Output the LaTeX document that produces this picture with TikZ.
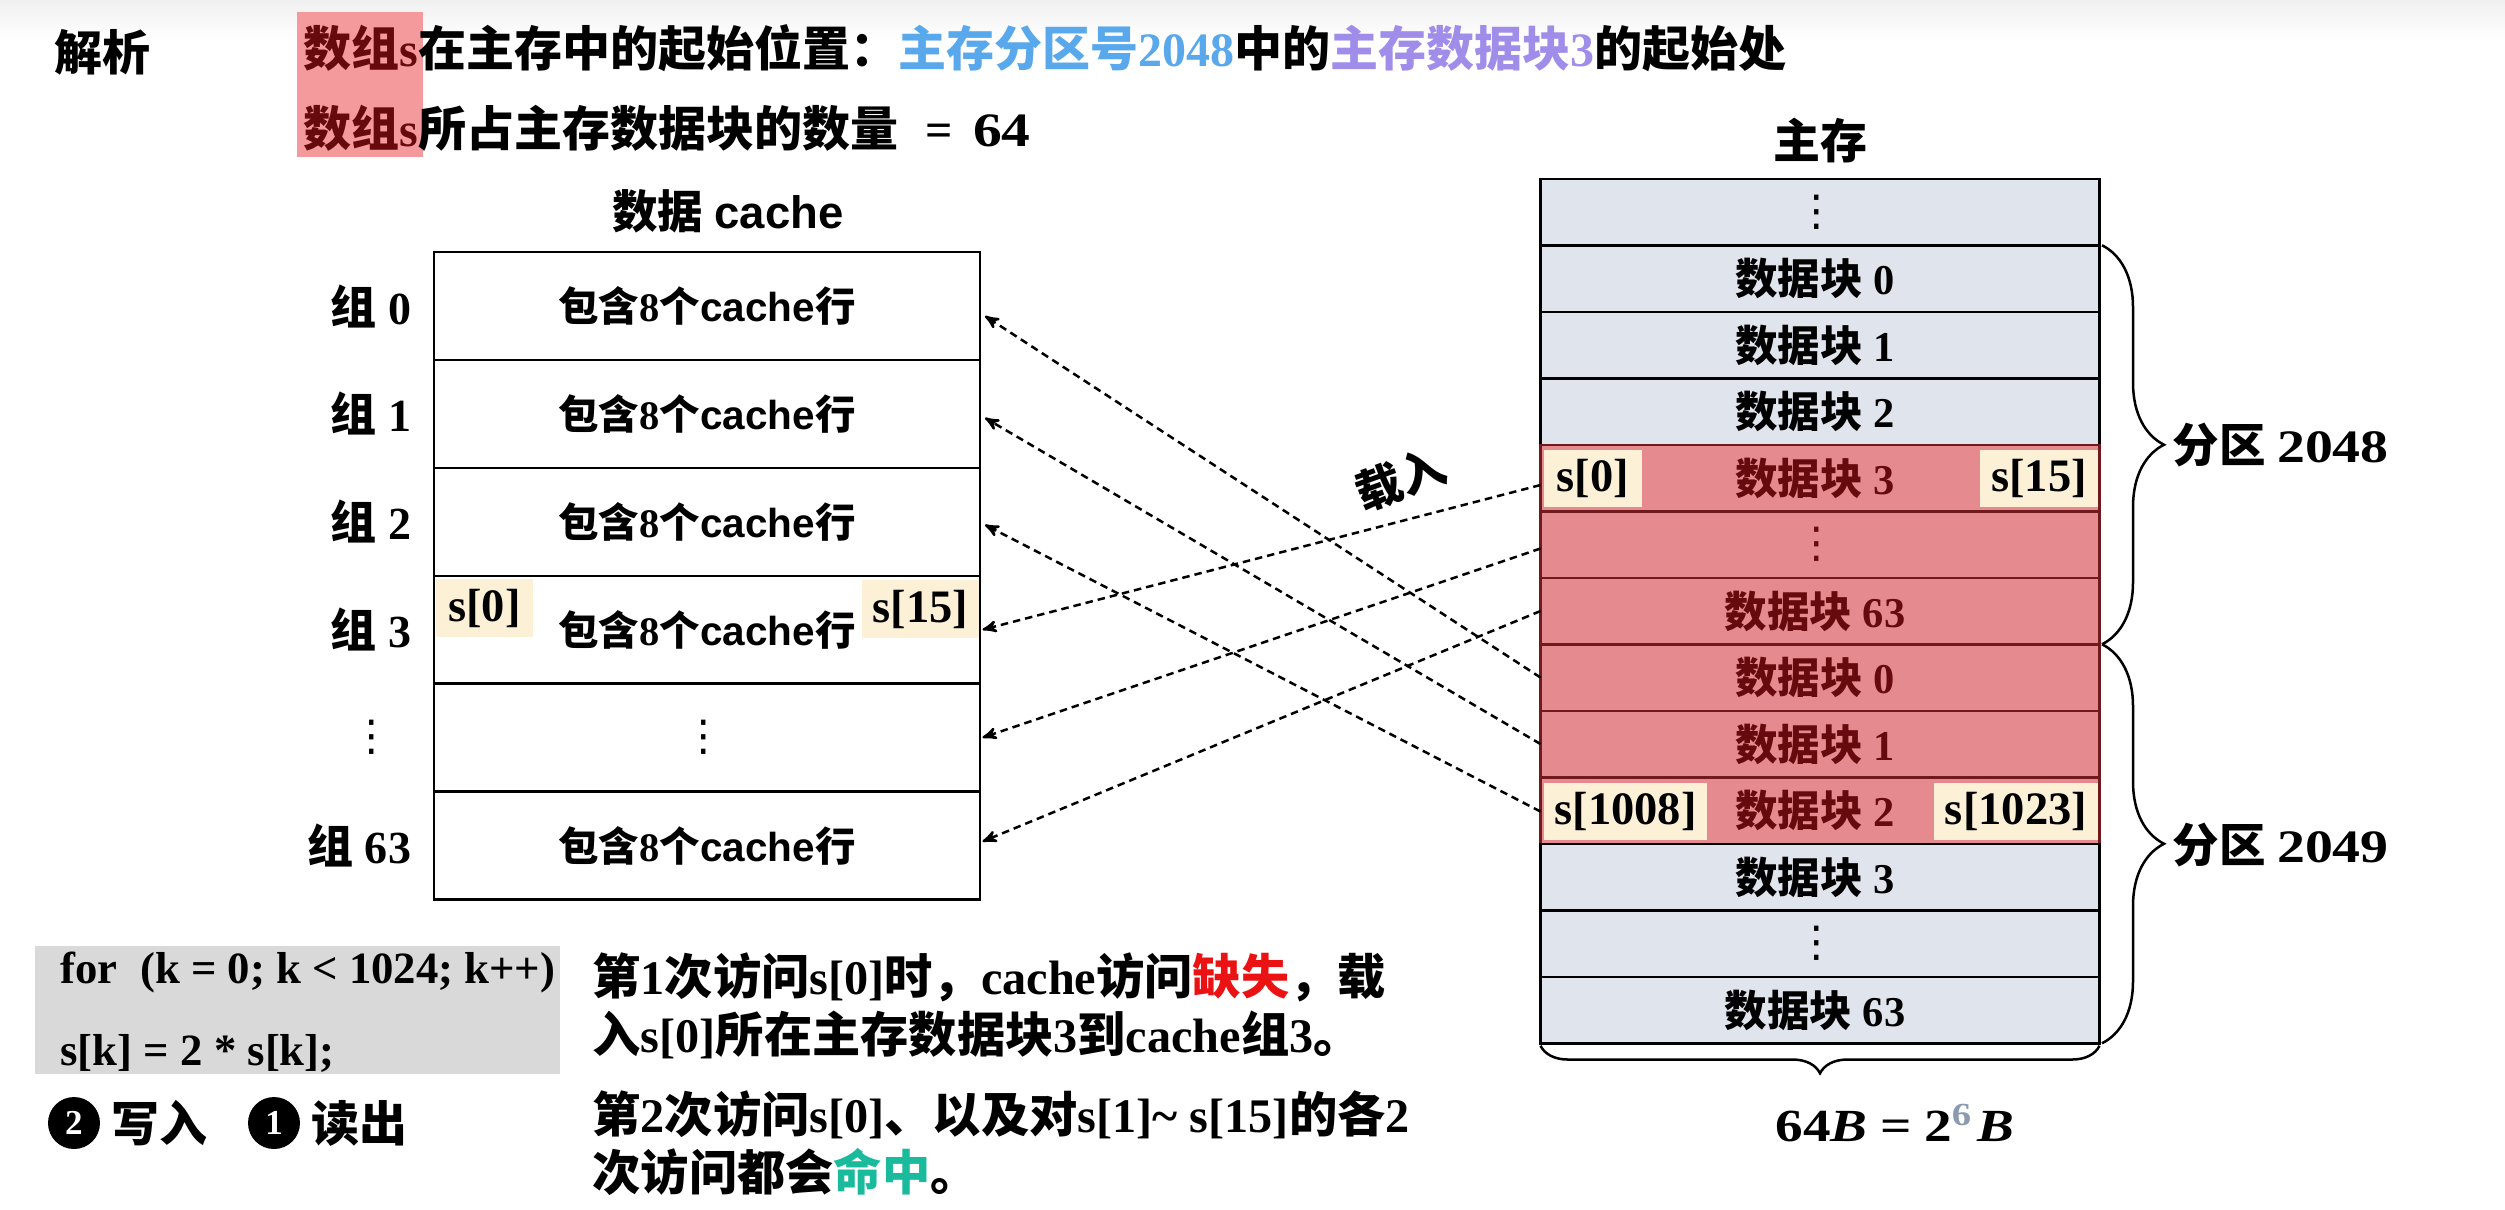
\documentclass[tikz,border=0pt]{standalone}
\usepackage{fontspec}
\setmainfont{Liberation Serif}
\setsansfont{Liberation Sans}
\newfontfamily\zhfont{Noto Sans CJK SC}
\newfontfamily\symfont{DejaVu Sans}
\newfontfamily\numfont{Liberation Serif}[FakeStretch=1.2]
\usepackage{tikz}
\usetikzlibrary{arrows,positioning,decorations.pathreplacing}
\newcommand{\zh}[1]{{\zhfont\bfseries #1}}
\newcommand{\fs}[1]{\fontsize{#1}{#1}\bfseries\selectfont}
\newcommand{\linetext}{\zh{包含}8\zh{个}{\sffamily\bfseries cache}\zh{行}}
\newcommand{\blk}[1]{\hspace*{-4pt}\zh{数据块} #1}
\newcommand{\vd}{\hspace*{-3pt}\raisebox{1pt}{{\symfont\mdseries ⋮}}}
\definecolor{hotred}{HTML}{E58B8F}
\definecolor{hotline}{HTML}{701A1E}
\definecolor{hottext}{HTML}{660A0E}
\definecolor{hotlabel}{HTML}{F49A9D}
\definecolor{memgrey}{HTML}{E0E4EC}
\definecolor{tagcream}{HTML}{FCF0D6}
\definecolor{keyblue}{HTML}{5AA8EC}
\definecolor{keypurple}{HTML}{A08DEA}
\definecolor{missred}{HTML}{EA1212}
\definecolor{hitgreen}{HTML}{1ABB9C}
\definecolor{powgrey}{HTML}{8A9BB0}
\tikzset{
    %Define standard arrow tip
    >=stealth',
    %Define style for cache rows
    cacheline/.style={
           rectangle,
           draw=black, line width=1pt,
           outer sep=0pt,
           minimum width=218.4pt,
           minimum height=43.16pt,
           font=\fs{16.2},
           text centered},
    %Define style for memory rows
    memblock/.style={
           rectangle,
           draw=black, line width=1pt,
           fill=memgrey,
           outer sep=0pt,
           minimum width=223.6pt,
           minimum height=26.6pt,
           font=\fs{17},
           text centered},
    hotblock/.style={
           memblock,
           draw=hotline,
           fill=hotred,
           text=hottext},
    grouplabel/.style={
           font=\fs{18.4},
           inner sep=0pt},
    plain/.style={
           font=\fs{19.2},
           inner sep=0pt,
           anchor=west},
    tagbox/.style={
           fill=tagcream,
           inner sep=0pt,
           font=\fs{18.6}},
    numdot/.style={
           circle,
           fill=black,
           text=white,
           inner sep=0pt,
           minimum size=20.8pt,
           font=\fs{14}},
    % Define arrow style
    pil/.style={
           ->,
           densely dashed,
           line width=1pt},
    bracket/.style={
           decorate,
           line width=1pt,
           decoration={brace,amplitude=#1}}
}
\begin{document}
\begin{tikzpicture}[x=0.4pt,y=-0.4pt]
\useasboundingbox (0,0) rectangle (2505,1209);
 %top band
\fill[top color=black!6, bottom color=white, draw=none] (0,0) rectangle (2505,40);
\fill[fill=hotlabel] (297,12) rectangle (423,157);
 %heading
\node[plain](ana) at (54,52){\zh{解析}};
\node[plain](head1) at (303,48){\textcolor{hottext}{\zh{数组}s}\zh{在主存中的起始位置：}\textcolor{keyblue}{\zh{主存分区号}2048}\zh{中的}\textcolor{keypurple}{\zh{主存数据块}3}\zh{的起始处}};
\node[plain](head2) at (303,128){\textcolor{hottext}{\zh{数组}s}\zh{所占主存数据块的数量}\hspace{11pt}=\hspace{8pt}{\numfont 64}};
 %cache
\node[cacheline](g0) at (707,306){\linetext};
\node[cacheline, below=0pt of g0](g1){\linetext};
\node[cacheline, below=0pt of g1](g2){\linetext};
\node[cacheline, below=0pt of g2](g3){\linetext};
\node[cacheline, below=0pt of g3, font=\fs{17}](g4){\vd};
\node[cacheline, below=0pt of g4](g5){\linetext};
\node[grouplabel, above=7.5pt of g0.north, xshift=8.3pt, font=\fs{18.2}](cachetitle){\zh{数据} {\sffamily cache}};
\node[grouplabel, left=9pt of g0](l0){\zh{组} 0};
\node[grouplabel, left=9pt of g1](l1){\zh{组} 1};
\node[grouplabel, left=9pt of g2](l2){\zh{组} 2};
\node[grouplabel, left=9pt of g3](l3){\zh{组} 3};
\node[grouplabel, left=16pt of g4, font=\fs{17}](l4){\vd};
\node[grouplabel, left=9pt of g5](l5){\zh{组} 63};
\node[tagbox, minimum width=38.8pt, minimum height=23.2pt](t0) at (484.5,608){s[0]};
\node[tagbox, minimum width=46.8pt, minimum height=23.2pt](t1) at (920.5,609){s[15]};
 %memory
\node[memblock](m0) at (1820,212){\vd};
\node[memblock, below=0pt of m0](m1){\blk{0}};
\node[memblock, below=0pt of m1](m2){\blk{1}};
\node[memblock, below=0pt of m2](m3){\blk{2}};
\node[hotblock, below=0pt of m3](m4){\blk{3}};
\node[hotblock, below=0pt of m4](m5){\vd};
\node[hotblock, below=0pt of m5](m6){\blk{63}};
\node[hotblock, below=0pt of m6](m7){\blk{0}};
\node[hotblock, below=0pt of m7](m8){\blk{1}};
\node[hotblock, below=0pt of m8](m9){\blk{2}};
\node[memblock, below=0pt of m9](m10){\blk{3}};
\node[memblock, below=0pt of m10](m11){\vd};
\node[memblock, below=0pt of m11](m12){\blk{63}};
\node[grouplabel, above=6.2pt of m0.north, font=\fs{18.8}](memtitle){\zh{主存}};
\node[tagbox, minimum width=39.2pt, minimum height=22.8pt](t2) at (1593,478.5){s[0]};
\node[tagbox, minimum width=47.2pt, minimum height=22.8pt](t3) at (2039,478.5){s[15]};
\node[tagbox, minimum width=65.2pt, minimum height=22.8pt](t4) at (1625.5,811.5){s[1008]};
\node[tagbox, minimum width=65.6pt, minimum height=22.8pt](t5) at (2016,811.5){s[1023]};
 %braces
\coordinate (br0) at ([xshift=1pt]m1.north east);
\coordinate (br1) at ([xshift=1pt]m6.south east);
\coordinate (br2) at ([xshift=1pt]m12.south east);
\draw[bracket=24.8pt] (br0) -- (br1);
\draw[bracket=24.8pt] (br1) -- (br2);
\draw[bracket=11pt] ([yshift=-1pt]m12.south east) -- ([yshift=-1pt]m12.south west);
\node[plain, font=\fs{18.6}](p0) at (2172,445){\zh{分区} {\numfont 2048}};
\node[plain, font=\fs{18.6}](p1) at (2172,845){\zh{分区} {\numfont 2049}};
\node[grouplabel, font=\fs{18.4}](size) at (1895,1123){{\numfont 64\textit{B}\hspace{5pt}=\hspace{5pt}2\textsuperscript{\textcolor{powgrey}{6}}\hspace{2pt}\textit{B}}};
 %load arrows
\draw[pil] (m7.west) -- ([xshift=2pt,yshift=-4pt]g0.east);
\draw[pil] (m8.west) -- ([xshift=2pt,yshift=-1.6pt]g1.east);
\draw[pil] ([yshift=-0.4pt]m9.west) -- ([xshift=2pt,yshift=-1.2pt]g2.east);
\draw[pil] ([yshift=-2.8pt]m4.west) -- ([xshift=1pt]g3.east);
\draw[pil] ([yshift=-1.6pt]m5.west) -- ([xshift=1pt]g4.east);
\draw[pil] (m6.west) -- ([xshift=1pt,yshift=1.6pt]g5.east);
\node[grouplabel, rotate=20](load) at (1401,479){\zh{载入}};
 %code
\node[fill=black!15, minimum width=210pt, minimum height=51.2pt, inner sep=0pt](code) at (297.5,1010){};
\node[plain, font=\fs{17.9}](c0) at (60,972){for\hspace{9pt}(k = 0; k < 1024; k++)};
\node[plain, font=\fs{17.9}](c1) at (60,1053){s[k] = 2 * s[k];};
\node[numdot](n2) at (74,1123){2};
\node[plain, right=4pt of n2](w2){\zh{写入}};
\node[numdot](n1) at (274,1123){1};
\node[plain, right=4pt of n1](r1){\zh{读出}};
 %notes
\node[plain, font=\fs{19.3}](note0) at (592,977){\zh{第}1\zh{次访问}s[0]\zh{时，}cache\zh{访问}\textcolor{missred}{\zh{缺失}}\zh{，载}};
\node[plain, font=\fs{19.3}](note1) at (592,1035){\zh{入}s[0]\zh{所在主存数据块}3\zh{到}cache\zh{组}3\zh{。}};
\node[plain, font=\fs{19.3}](note2) at (592,1115){\zh{第}2\zh{次访问}s[0]\zh{、以及对}s[1]\textasciitilde{} s[15]\zh{的各}2};
\node[plain, font=\fs{19.3}](note3) at (592,1172){\zh{次访问都会}\textcolor{hitgreen}{\zh{命中}}\zh{。}};
\end{tikzpicture}
\end{document}
